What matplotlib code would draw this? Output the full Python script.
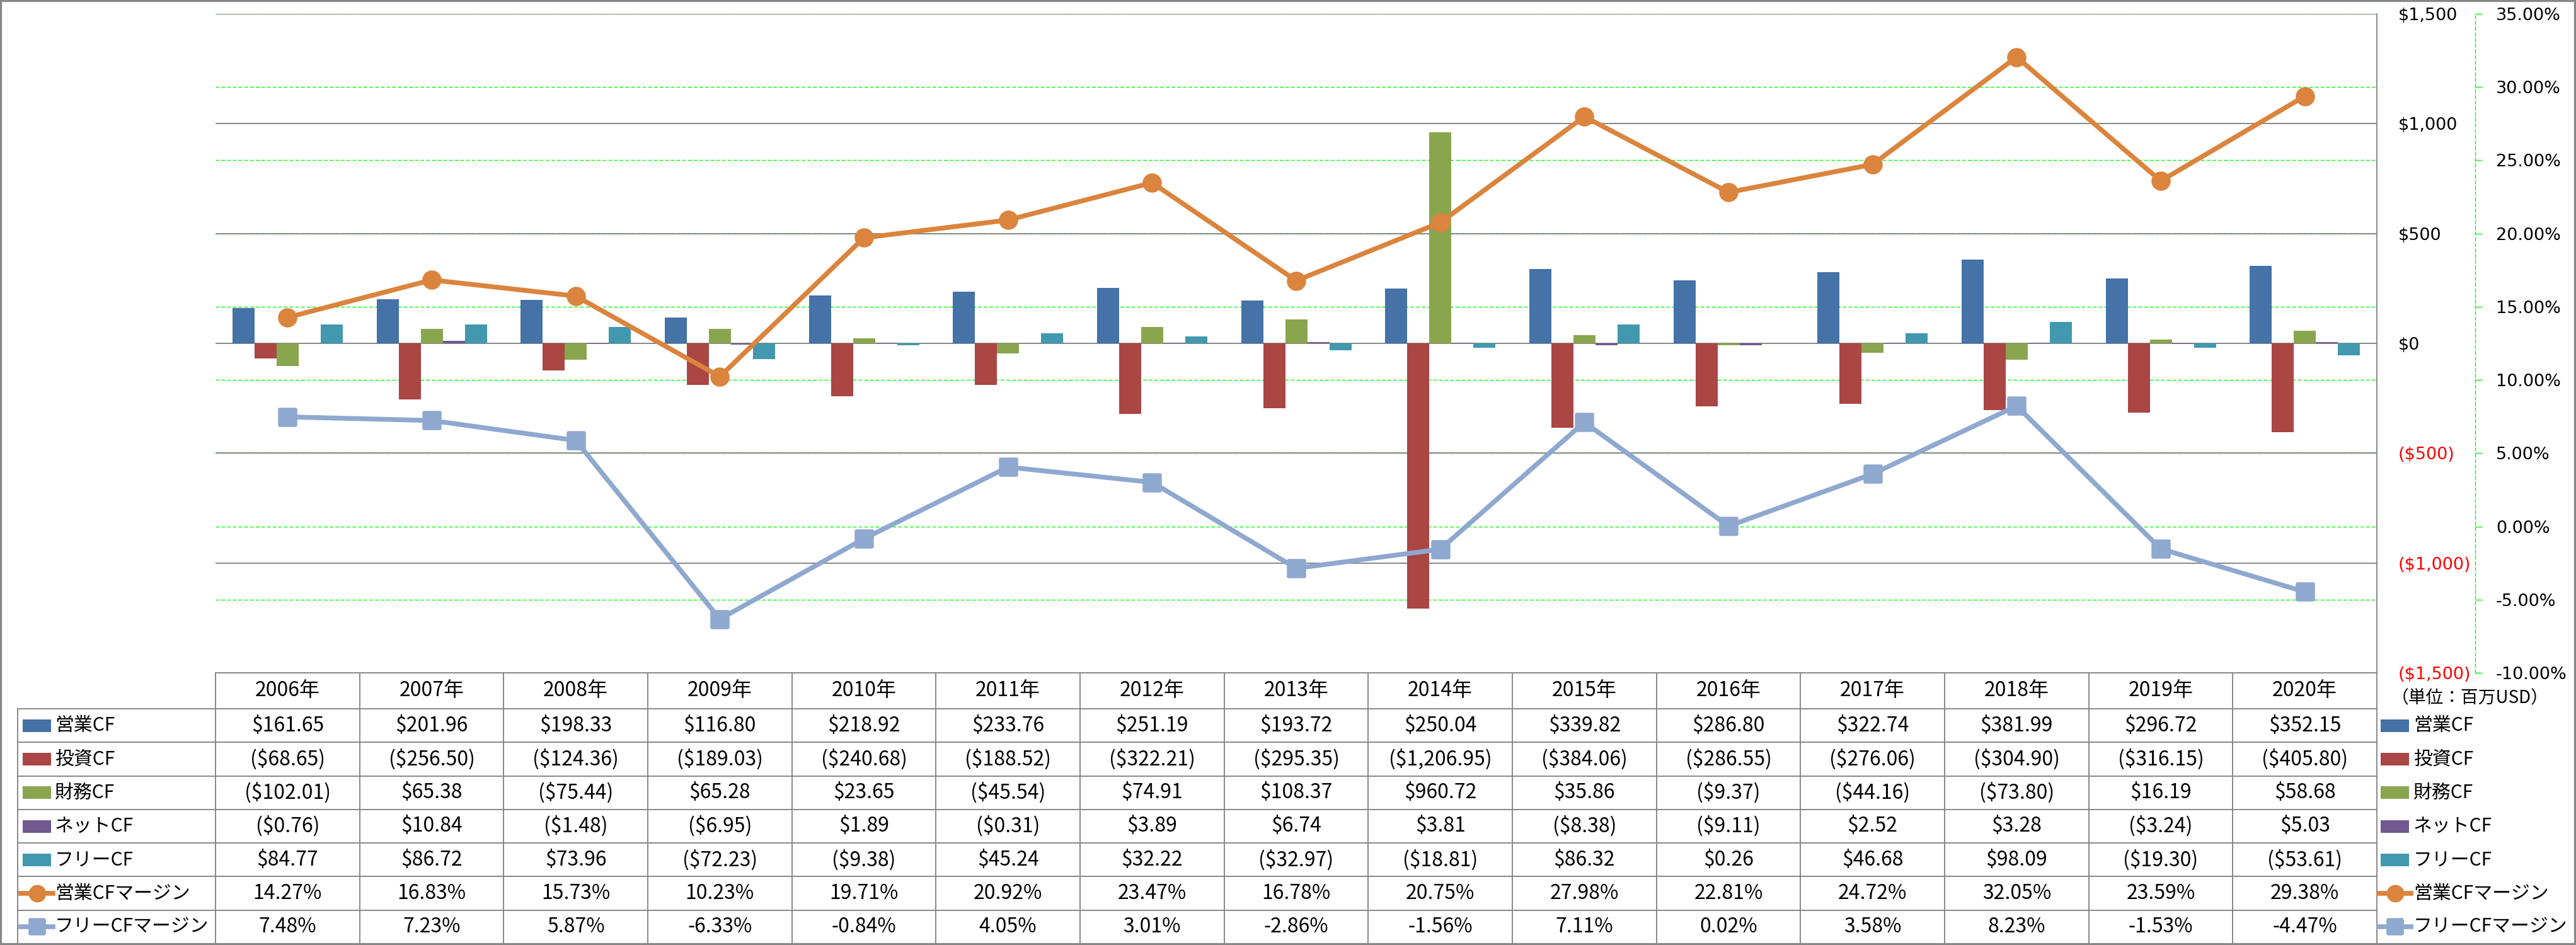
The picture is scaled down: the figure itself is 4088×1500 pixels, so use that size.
import matplotlib
matplotlib.use('Agg')
import matplotlib.pyplot as plt
from matplotlib.lines import Line2D
from matplotlib.markers import MarkerStyle
from matplotlib.patches import Rectangle

# ---- data (百万USD / %) ----
years = ['2006年', '2007年', '2008年', '2009年', '2010年', '2011年', '2012年', '2013年',
         '2014年', '2015年', '2016年', '2017年', '2018年', '2019年', '2020年']
op_cf = [161.65, 201.96, 198.33, 116.80, 218.92, 233.76, 251.19, 193.72,
         250.04, 339.82, 286.80, 322.74, 381.99, 296.72, 352.15]
inv_cf = [-68.65, -256.50, -124.36, -189.03, -240.68, -188.52, -322.21, -295.35,
          -1206.95, -384.06, -286.55, -276.06, -304.90, -316.15, -405.80]
fin_cf = [-102.01, 65.38, -75.44, 65.28, 23.65, -45.54, 74.91, 108.37,
          960.72, 35.86, -9.37, -44.16, -73.80, 16.19, 58.68]
net_cf = [-0.76, 10.84, -1.48, -6.95, 1.89, -0.31, 3.89, 6.74,
          3.81, -8.38, -9.11, 2.52, 3.28, -3.24, 5.03]
free_cf = [84.77, 86.72, 73.96, -72.23, -9.38, 45.24, 32.22, -32.97,
           -18.81, 86.32, 0.26, 46.68, 98.09, -19.30, -53.61]
op_margin = [14.27, 16.83, 15.73, 10.23, 19.71, 20.92, 23.47, 16.78,
             20.75, 27.98, 22.81, 24.72, 32.05, 23.59, 29.38]
free_margin = [7.48, 7.23, 5.87, -6.33, -0.84, 4.05, 3.01, -2.86,
               -1.56, 7.11, 0.02, 3.58, 8.23, -1.53, -4.47]

bar_names = ['営業CF', '投資CF', '財務CF', 'ネットCF', 'フリーCF']
line_names = ['営業CFマージン', 'フリーCFマージン']
usd_ticks = [-1500, -1000, -500, 0, 500, 1000, 1500]
pct_ticks = [-10, -5, 0, 5, 10, 15, 20, 25, 30, 35]

bar_colors = ['#4572A7', '#AA4643', '#89A54E', '#71588F', '#4198AF']
line_colors = ['#DB843D', '#8FA8CF']
GRAY = '#878787'
LIME = '#00FF00'
JP = ['Noto Sans CJK JP', 'DejaVu Sans']
TXT = 23
NAME_TXT = 21.5

W, H = 4088, 1500


def fx(px):
    return px / W


def fy(py):
    return 1 - py / H


def usd(v):
    return '(${:,.2f})'.format(-v) if v < 0 else '${:,.2f}'.format(v)


def usd_tick(v):
    return '(${:,})'.format(-v) if v < 0 else '${:,}'.format(v)


fig = plt.figure(figsize=(W / 100, H / 100), dpi=100)
fig.patch.set_facecolor('white')

# plot area
L, R, T, B = 342, 3772, 22, 1068
ax = fig.add_axes([fx(L), fy(B), (R - L) / W, (B - T) / H])
ax2 = ax.twinx()

n = len(years)
xs = list(range(n))
bw = 35 / ((R - L) / n)
series = [op_cf, inv_cf, fin_cf, net_cf, free_cf]
for i, vals in enumerate(series):
    ax.bar([x + (i - 2) * bw for x in xs], vals, width=bw, color=bar_colors[i], zorder=2)

ax.set_xlim(-0.5, n - 0.5)
ax.set_ylim(-1500, 1500)
ax2.set_ylim(-10, 35)

ax.set_axisbelow(True)
ax.grid(axis='y', color=GRAY, lw=1.4, zorder=0.5)
ax.set_xticks([])
ax.yaxis.tick_right()
ax.set_yticks(usd_ticks, labels=[usd_tick(v) for v in usd_ticks])
ax.tick_params(axis='y', length=0, pad=24.5, labelsize=19.5)
for lab, v in zip(ax.get_yticklabels(), usd_ticks):
    lab.set_color('red' if v < 0 else 'black')
for s in ['top', 'left', 'bottom']:
    ax.spines[s].set_visible(False)
ax.spines['right'].set_color(GRAY)
ax.spines['right'].set_linewidth(1.4)

# green dashed gridlines of the % axis, behind the gray ones and the bars
for p in pct_ticks:
    ax.plot([-0.5, n - 0.5], [p, p], transform=ax2.transData, color=LIME,
            lw=1.0, ls=(0, (4, 2.5)), zorder=0.4)

# margin lines
sq = MarkerStyle('s', joinstyle='round')
ax2.plot(xs, op_margin, color=line_colors[0], lw=5.5, marker='o', ms=22,
         mec=line_colors[0], mew=0, zorder=3)
ax2.plot(xs, free_margin, color=line_colors[1], lw=5.5, marker=sq, ms=18,
         mec=line_colors[1], mew=4, zorder=3)

ax2.set_yticks(pct_ticks, labels=['{:.2f}%'.format(p) for p in pct_ticks])
for lab, p in zip(ax2.get_yticklabels(), pct_ticks):
    lab.set_color('red' if p < 0 else 'black')
ax2.tick_params(axis='y', direction='out', length=8, width=1, color=LIME,
                pad=16, labelsize=19.5)
for s in ['top', 'left', 'bottom']:
    ax2.spines[s].set_visible(False)
ax2.spines['right'].set_position(('outward', 112))
ax2.spines['right'].set_color(LIME)
ax2.spines['right'].set_linewidth(1.0)
ax2.spines['right'].set_linestyle((0, (4, 2.5)))

# ---- data table ----
cw = (R - L) / n
head_top, head_bot = 1068, 1125
rh = (1498 - head_bot) / 7
tl = dict(color=GRAY, lw=1.4, transform=fig.transFigure)

fig.add_artist(Line2D([fx(L), fx(R)], [fy(head_top)] * 2, **tl))
for k in range(8):
    y = head_bot + k * rh
    fig.add_artist(Line2D([fx(28), fx(R)], [fy(y)] * 2, **tl))
fig.add_artist(Line2D([fx(28)] * 2, [fy(head_bot), fy(1498)], **tl))
for i in range(n + 1):
    x = L + i * cw
    fig.add_artist(Line2D([fx(x)] * 2, [fy(head_top), fy(1498)], **tl))

for i, yr in enumerate(years):
    fig.text(fx(L + (i + 0.5) * cw), fy((head_top + head_bot) / 2), yr,
             ha='center', va='center', fontsize=TXT, family=JP)

rows = [[usd(v) for v in s] for s in series]
rows.append(['{:.2f}%'.format(v) for v in op_margin])
rows.append(['{:.2f}%'.format(v) for v in free_margin])
row_names = bar_names + line_names

for r, cells in enumerate(rows):
    yc = head_bot + (r + 0.5) * rh
    for i, txt in enumerate(cells):
        fig.text(fx(L + (i + 0.5) * cw), fy(yc), txt, ha='center', va='center',
                 fontsize=TXT, family=JP)


def legend_key(x0, yc, r):
    if r < 5:
        fig.add_artist(Rectangle((fx(x0 + 3), fy(yc + 10)), 45 / W, 20 / H,
                                 facecolor=bar_colors[r], edgecolor='none',
                                 transform=fig.transFigure))
    else:
        c = line_colors[r - 5]
        mk = 'o' if r == 5 else sq
        ms = 20 if r == 5 else 16
        mew = 0 if r == 5 else 4
        fig.add_artist(Line2D([fx(x0), fx(x0 + 51)], [fy(yc)] * 2, color=c, lw=5.5,
                              transform=fig.transFigure))
        fig.add_artist(Line2D([fx(x0 + 25.5)], [fy(yc)], color=c, marker=mk, ms=ms,
                              mew=mew, mec=c, transform=fig.transFigure))


for r, name in enumerate(row_names):
    yc = head_bot + (r + 0.5) * rh
    legend_key(33, yc, r)
    fig.text(fx(87), fy(yc), name, ha='left', va='center', fontsize=NAME_TXT, family=JP)
    legend_key(3775, yc, r)
    fig.text(fx(3830), fy(yc), name, ha='left', va='center', fontsize=NAME_TXT, family=JP)

fig.text(fx(3795), fy(1108), '（単位：百万USD）', ha='left', va='center',
         fontsize=20, family=JP)

# chart border
fig.add_artist(Rectangle((0, 0), 1, 1, facecolor='none', edgecolor=GRAY, lw=4.5,
                         transform=fig.transFigure))

fig.savefig('out.png', dpi=100, facecolor='white')
